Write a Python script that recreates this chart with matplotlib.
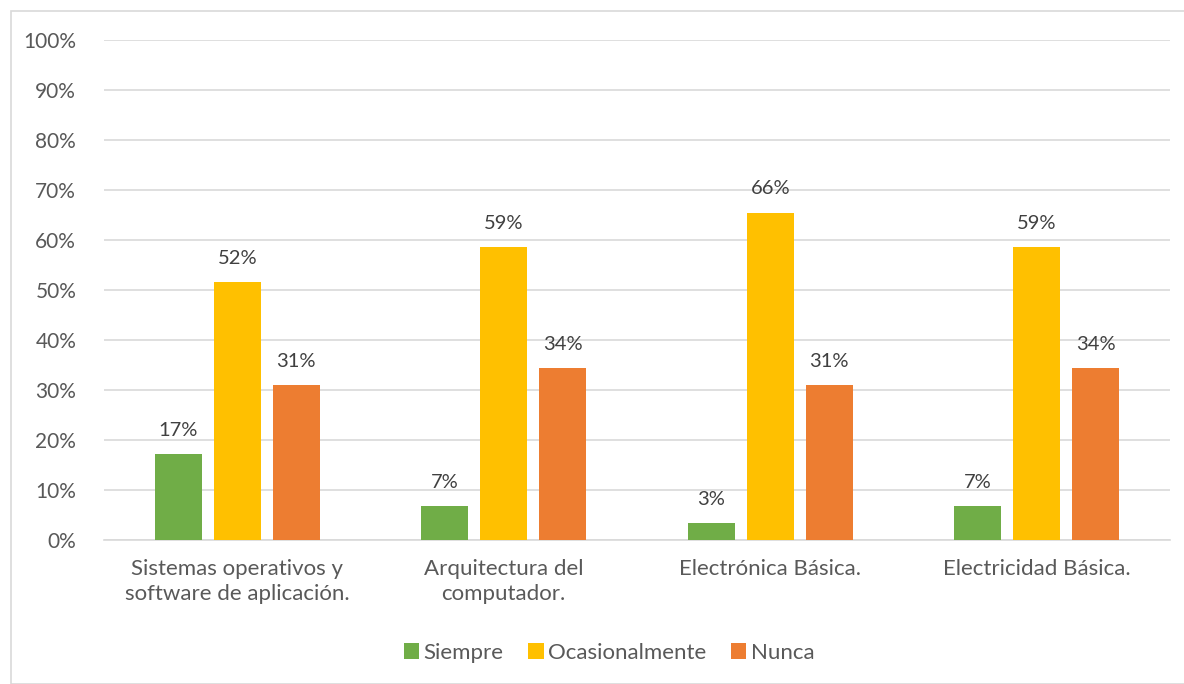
import numpy as np
import matplotlib.pyplot as plt
from matplotlib.patches import Rectangle

categories = ["Sistemas operativos y\nsoftware de aplicación.",
              "Arquitectura del\ncomputador.",
              "Electrónica Básica.",
              "Electricidad Básica."]
series = ["Siempre", "Ocasionalmente", "Nunca"]
siempre = [17.2, 6.9, 3.4, 6.9]
ocasionalmente = [51.7, 58.6, 65.5, 58.6]
nunca = [31.0, 34.5, 31.0, 34.5]
colors = ["#70AD47", "#FFC000", "#ED7D31"]

plt.rcParams["font.family"] = ["Lato", "DejaVu Sans"]

fig = plt.figure(figsize=(11.84, 6.84), dpi=100)
ax = fig.add_axes([104 / 1184, 144 / 684, 1066 / 1184, 500 / 684])

# light frame around the chart
fig.patches.append(Rectangle((11 / 1184, 0), 1.0, 1 - 11 / 684, transform=fig.transFigure,
                             fill=False, edgecolor="#d9d9d9", linewidth=1.2))

x = np.arange(len(categories))
width = 0.176
step = 0.221
for i, (name, vals) in enumerate(zip(series, [siempre, ocasionalmente, nunca])):
    pos = x + (i - 1) * step
    ax.bar(pos, vals, width, color=colors[i], label=name, zorder=3)
    for p, v in zip(pos, vals):
        ax.text(p, v + 3.0, f"{round(v):.0f}%", ha="center", va="bottom",
                fontsize=14.5, color="#404040")

ax.set_xlim(-0.5, 3.5)
ax.set_ylim(0, 100)
ax.set_yticks(range(0, 101, 10))
ax.set_yticklabels([f"{t}%" for t in range(0, 101, 10)])
ax.set_xticks(x)
ax.set_xticklabels(categories, fontsize=16, linespacing=1.3)
ax.tick_params(axis="both", length=0, labelcolor="#595959")
ax.tick_params(axis="y", pad=20, labelsize=15)
ax.tick_params(axis="x", pad=14)
ax.grid(axis="y", color="#d9d9d9", linewidth=1.2, zorder=0)
for s in ["top", "right", "left"]:
    ax.spines[s].set_visible(False)
ax.spines["bottom"].set_color("#d9d9d9")
ax.spines["bottom"].set_linewidth(1.2)

fig.legend(loc="center", bbox_to_anchor=(609 / 1184, 1 - 653 / 684), ncol=3,
           frameon=False, fontsize=16, handlelength=0.7, handleheight=0.7,
           handletextpad=0.2, columnspacing=1.1, labelcolor="#595959")

fig.savefig("out.png", dpi=100)
